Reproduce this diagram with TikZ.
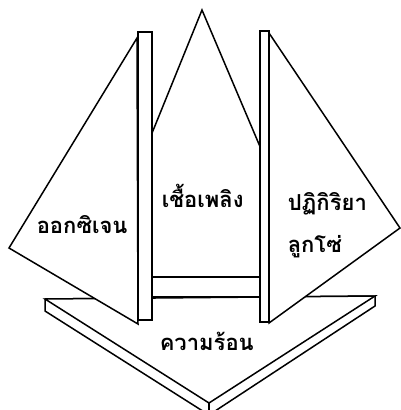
\documentclass[tikz,border=0pt]{standalone}
\usepackage{fontspec}
\newfontfamily\thaifont[Script=Thai]{Loma}
\usepackage{tikz}

\begin{document}
\begin{tikzpicture}[x=1pt, y=-1pt, line width=1.5pt, line join=miter,
	every node/.style={font=\thaifont\bfseries\fontsize{22}{26}\selectfont, inner sep=0pt, anchor=base west},
	face/.style={draw, fill=white}]
	\useasboundingbox (0,0) rectangle (401,410);
	% heat: the flat arrow at the bottom
	\draw[face] (45,299) -- (45,311) -- (209,415) -- (375,306) -- (375,296) -- cycle;
	\draw[face] (45,299) -- (209,403) -- (375,296) -- cycle;
	\draw (209,403) -- (209,415);
	\node (heat) at (159,350) {ความร้อน};
	% fuel: the middle triangle
	\fill[white] (202,10) -- (148,143) -- (264,156) -- cycle;
	\draw (148,143) -- (202,10) -- (264,156);
	\draw[face] (152,277) rectangle (260,297);
	\node (fuel) at (161,207) {เชื้อเพลิง};
	% oxygen and chain reaction
	\draw[face] (137,38) -- (9,248) -- (138,324) -- cycle;
	\node (oxy) at (36,233) {ออกซิเจน};
	\draw[face] (269,33) -- (400,228) -- (269,323) -- cycle;
	\node (chain1) at (287,210) {ปฏิกิริยา};
	\node (chain2) at (287,252) {ลูกโซ่};
	% the two posts
	\draw[face] (138,32) rectangle (152,320);
	\draw[face] (260,31) rectangle (269,322);
\end{tikzpicture}
\end{document}
